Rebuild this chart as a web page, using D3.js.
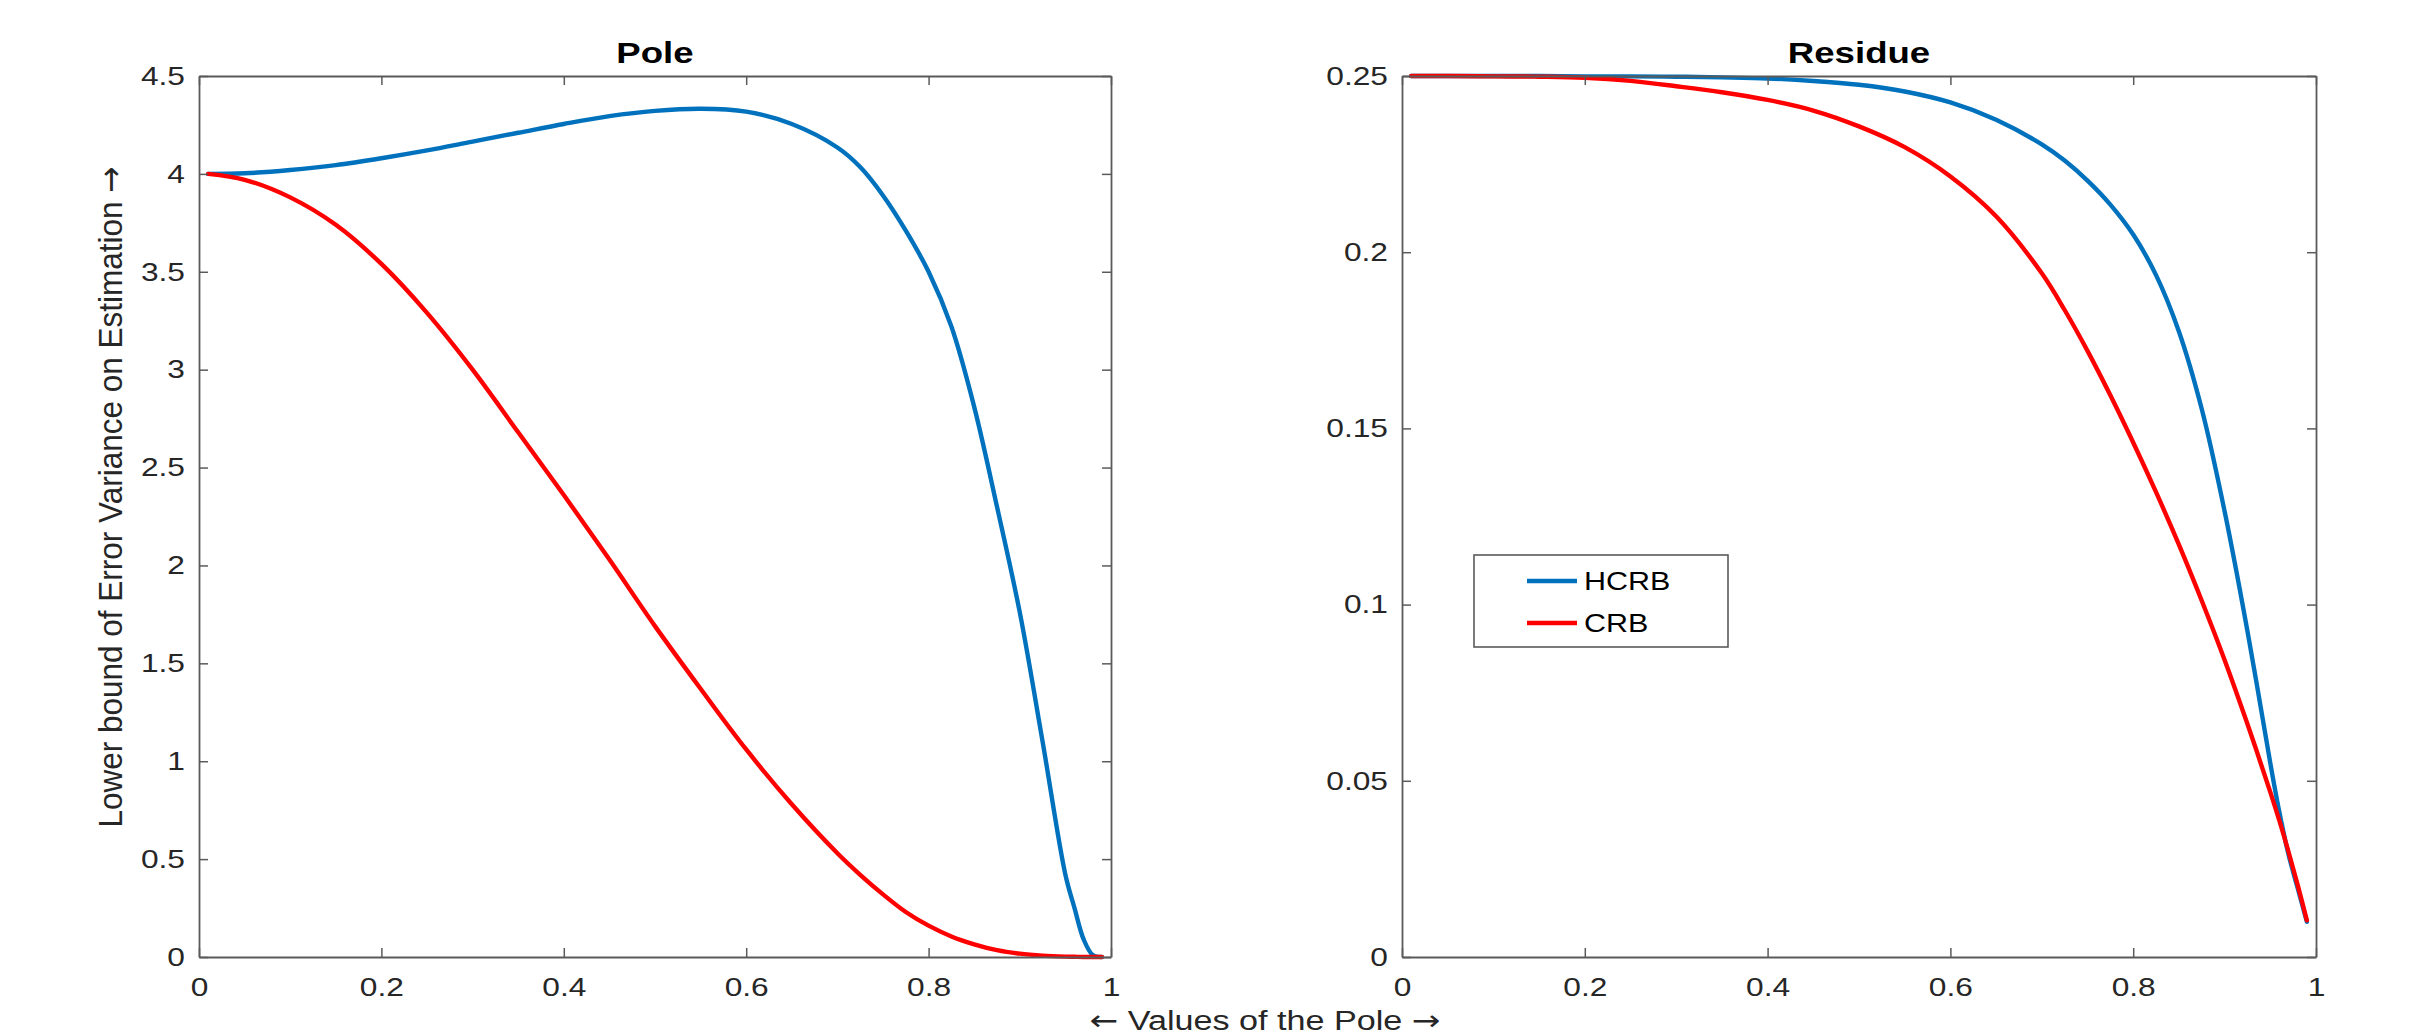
<!DOCTYPE html>
<html>
<head>
<meta charset="utf-8">
<script src="https://cdn.jsdelivr.net/npm/d3@7"></script>
<style>
  body { margin: 0; background: #fff; }
  text { font-family: "Liberation Sans", Arial, "DejaVu Sans", sans-serif; }
</style>
</head>
<body>
<svg id="chart" width="2417" height="1036"></svg>
<script>
// values
var poleX = [0.01,0.05,0.1,0.15,0.2,0.25,0.3,0.35,0.4,0.45,0.5,0.55,0.6,0.65,0.7,0.725,0.75,0.775,0.8,0.825,0.85,0.875,0.9,0.925,0.95,0.96,0.97,0.98,0.99]
var hcrbPole = [4.0,4.003,4.02,4.045,4.08,4.12,4.165,4.21,4.255,4.295,4.322,4.333,4.318,4.255,4.135,4.035,3.89,3.71,3.50,3.22,2.81,2.30,1.76,1.10,0.42,0.25,0.09,0.01,0.0]
var crbPole = [4.0,3.97,3.88,3.74,3.54,3.29,3.0,2.68,2.36,2.03,1.69,1.37,1.06,0.78,0.53,0.42,0.32,0.23,0.16,0.105,0.065,0.035,0.017,0.007,0.002,0.001,0.0,0.0,0.0]
var hcrbResidue = [0.25,0.25,0.25,0.25,0.2499,0.2499,0.2498,0.2496,0.2493,0.2486,0.2475,0.2456,0.2425,0.2376,0.2306,0.2260,0.2203,0.2135,0.2050,0.1935,0.1775,0.1555,0.1265,0.0925,0.055,0.041,0.029,0.0195,0.010]
var crbResidue = [0.25,0.25,0.2499,0.2498,0.2495,0.2486,0.2471,0.2454,0.2432,0.2402,0.2357,0.2298,0.2215,0.2102,0.1940,0.1836,0.1720,0.1594,0.1460,0.1319,0.1170,0.1011,0.0843,0.0661,0.0468,0.0386,0.0298,0.0204,0.0104]

var xTicks = [0,0.2,0.4,0.6,0.8,1]
var poleTicks = [0,0.5,1,1.5,2,2.5,3,3.5,4,4.5]
var residueTicks = [0,0.05,0.1,0.15,0.2,0.25]
var seriesNames = ["HCRB","CRB"]
var seriesColors = ["#0072BD","#FF0000"]

var SX = 1.22 // reference figure is stretched sideways
var svg = d3.select("#chart")
svg.append("rect").attr("width",2417).attr("height",1036).attr("fill","#fff")

var top_ = 76, bottom = 957

function drawPanel(left, right, yMax, yTicks, title, hcrb, crb) {
  var x = d3.scaleLinear().domain([0,1]).range([left,right])
  var y = d3.scaleLinear().domain([0,yMax]).range([bottom,top_])
  var g = svg.append("g")

  var line = d3.line().x(function(d){return x(d[0])}).y(function(d){return y(Math.max(0,d[1]))}).curve(d3.curveCatmullRom.alpha(0.5))
  var series = [hcrb, crb]
  series.forEach(function(vals,i){
    g.append("path").datum(poleX.map(function(px,j){return [px, vals[j]]}))
      .attr("d",line).attr("fill","none").attr("stroke",seriesColors[i])
      .attr("stroke-width",4.4).attr("stroke-linejoin","round").attr("stroke-linecap","round")
  })

  var fmt = function(d){ return String(+d.toFixed(2)) }
  var ax = [
    g.append("g").attr("transform","translate(0,"+bottom+")").call(d3.axisBottom(x).tickValues(xTicks).tickFormat(fmt).tickSizeInner(-9).tickSizeOuter(0).tickPadding(21)),
    g.append("g").attr("transform","translate(0,"+top_+")").call(d3.axisTop(x).tickValues(xTicks).tickFormat("").tickSizeInner(-9).tickSizeOuter(0)),
    g.append("g").attr("transform","translate("+left+",0)").call(d3.axisLeft(y).tickValues(yTicks).tickFormat(fmt).tickSizeInner(-9).tickSizeOuter(0).tickPadding(11.5)),
    g.append("g").attr("transform","translate("+right+",0)").call(d3.axisRight(y).tickValues(yTicks).tickFormat("").tickSizeInner(-9).tickSizeOuter(0))
  ]
  ax.forEach(function(a){
    a.select(".domain").attr("stroke","#5a5a5a").attr("stroke-width",1.8)
    a.selectAll(".tick line").attr("stroke","#5a5a5a").attr("stroke-width",1.5)
    a.selectAll("text").attr("font-size",26).attr("fill","#262626")
      .attr("font-family","'Liberation Sans', Arial, sans-serif")
      .attr("transform","scale("+SX+",1)")
  })

  svg.append("text").text(title)
    .attr("transform","translate("+((left+right)/2)+",63) scale("+SX+",1)")
    .attr("text-anchor","middle").attr("font-size",30).attr("font-weight","bold").attr("fill","#000")
  return {x:x, y:y}
}

drawPanel(199, 1111, 4.5, poleTicks, "Pole", hcrbPole, crbPole)
drawPanel(1402, 2316, 0.25, residueTicks, "Residue", hcrbResidue, crbResidue)

// axis labels, arrows in DejaVu which draws them full size
var xl = svg.append("text")
  .attr("transform","translate(1265,1030) scale("+SX+",1)")
  .attr("text-anchor","middle").attr("font-size",28).attr("fill","#262626")
xl.append("tspan").attr("font-family","'DejaVu Sans'").text("\u2190")
xl.append("tspan").text(" Values of the Pole ")
xl.append("tspan").attr("font-family","'DejaVu Sans'").text("\u2192")

var yl = svg.append("text")
  .attr("transform","translate(122,497) scale(1.07,1) rotate(-90)")
  .attr("text-anchor","middle").attr("font-size",31.5).attr("fill","#262626")
yl.append("tspan").text("Lower bound of Error Variance on Estimation ")
yl.append("tspan").attr("font-family","'DejaVu Sans'").text("\u2192")

// legend
var lg = svg.append("g").attr("transform","translate(1474,555)")
lg.append("rect").attr("width",254).attr("height",92).attr("fill","#fff").attr("stroke","#5a5a5a").attr("stroke-width",1.6)
seriesNames.forEach(function(name,i){
  var yy = 26 + i*42
  lg.append("line").attr("x1",53).attr("x2",103).attr("y1",yy).attr("y2",yy)
    .attr("stroke",seriesColors[i]).attr("stroke-width",4.4)
  lg.append("text").text(name).attr("transform","translate(110,"+(yy+9)+") scale("+SX+",1)")
    .attr("font-size",25).attr("fill","#000")
})
</script>
</body>
</html>
